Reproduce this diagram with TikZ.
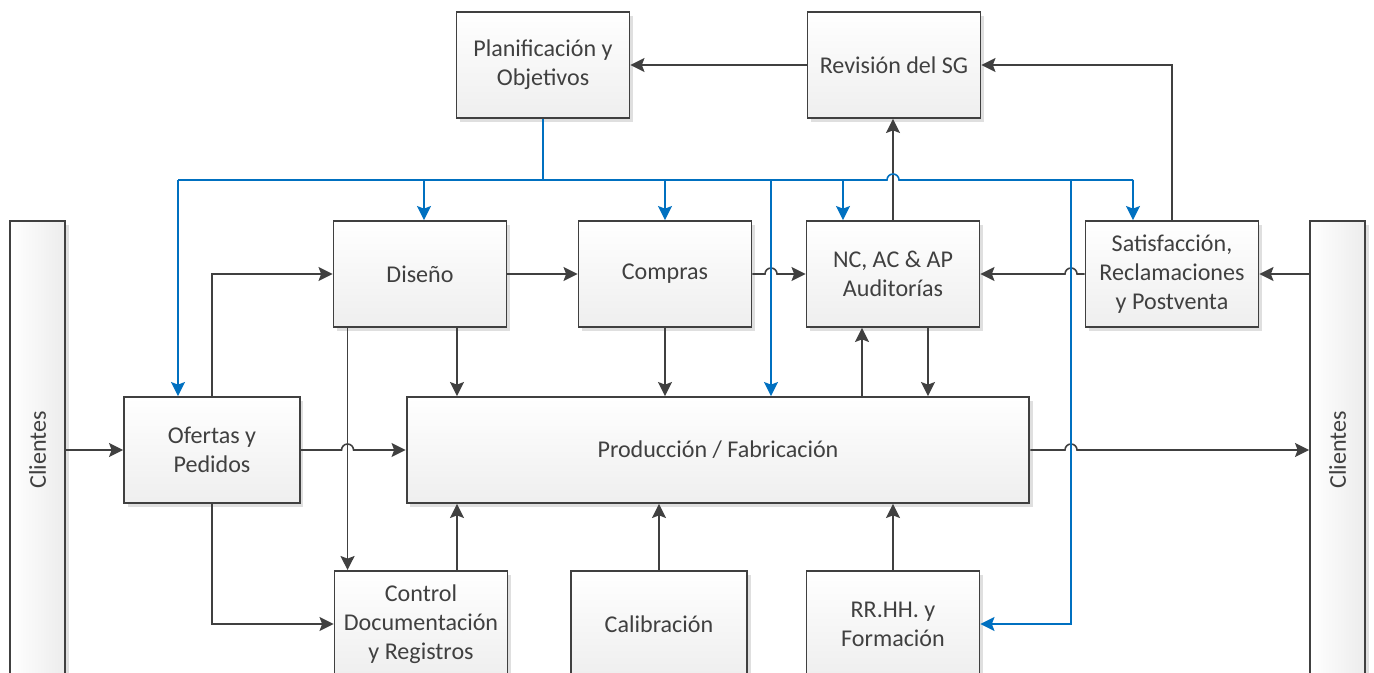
\documentclass[tikz,border=0pt]{standalone}
\usepackage{fontspec}
\setmainfont{Carlito}
\usetikzlibrary{arrows.meta,calc,shadows}

\definecolor{linegray}{RGB}{64,64,64}
\definecolor{planblue}{RGB}{0,112,192}

\begin{document}
\begin{tikzpicture}[x=0.02cm,y=-0.02cm,>={Stealth[length=8pt,width=8pt,inset=1.5pt]},line width=0.9pt,
  font=\fontsize{13.7}{16.5}\selectfont,
  proc/.style={draw=linegray,line width=1.1pt,top color=white,bottom color=gray!13,text=linegray,
    align=center,minimum width=3.46cm,minimum height=2.12cm,inner sep=2pt,
    drop shadow={shadow xshift=2pt,shadow yshift=-2pt,opacity=0.25}},
  client/.style={draw=linegray,line width=1.1pt,left color=white,right color=gray!15,
    minimum width=1.1cm,minimum height=9.16cm,inner sep=0pt,
    drop shadow={shadow xshift=2pt,shadow yshift=-2pt,opacity=0.25}},
  flow/.style={draw=linegray,->},
  plan/.style={draw=planblue,->}]
\def\J{0.12cm}
\clip (0,0) rectangle (1374,673);

% clientes
\node[client] (clL) at (37.5,450) {};
\node[rotate=90,text=linegray] at (clL) {Clientes};
\node[client] (clR) at (1337.5,450) {};
\node[rotate=90,text=linegray] at (clR) {Clientes};

% procesos
\node[proc] (plan) at (543,65) {Planificación y\\Objetivos};
\node[proc] (revision) at (894,65) {Revisión del SG};
\node[proc] (diseno) at (420,274) {Diseño};
\node[proc] (compras) at (665,274) {Compras};
\node[proc] (nc) at (893,274) {NC, AC \& AP\\Auditorías};
\node[proc] (satisf) at (1172,274) {Satisfacción,\\Reclamaciones\\y Postventa};
\node[proc,minimum width=3.52cm] (ofertas) at (212,450) {Ofertas y\\Pedidos};
\node[proc,minimum width=12.46cm] (produccion) at (718,450) {Producción / Fabricación};
\node[proc] (control) at (421,624) {Control\\Documentación\\y Registros};
\node[proc,minimum width=3.52cm] (calib) at (659,624) {Calibración};
\node[proc] (rrhh) at (893,624) {RR.HH. y\\Formación};

% puntos auxiliares
\coordinate (busL) at (178,180);
\coordinate (busR) at (1133,180);
\coordinate (bp) at (771,180);
\coordinate (rv) at (1071,180);
\coordinate (d2c) at ($(diseno.south west)+(15,0)$);
\coordinate (d2p) at ($(diseno.south)+(37,0)$);
\coordinate (c2p) at ($(control.north)+(36,0)$);
\coordinate (p2n) at ($(nc.south)+(-31,0)$);
\coordinate (n2p) at ($(nc.south)+(35,0)$);

% flujos
\draw[flow] (clL.east) -- (ofertas.west);
\draw[flow] (ofertas.north) |- (diseno.west);
\draw[flow] (ofertas.east) -- ($(ofertas.east -| d2c)+(-6,0)$)
  arc[start angle=180,end angle=0,radius=\J] -- (produccion.west);
\draw[flow] (ofertas.south) |- (control.west);
\draw[flow] (d2c) -- (d2c |- control.north);
\draw[flow] (d2p) -- (d2p |- produccion.north);
\draw[flow] (diseno.east) -- (compras.west);
\draw[flow] (compras.south) -- (compras.south |- produccion.north);
\draw[flow] (compras.east) -- ($(compras.east -| bp)+(-6,0)$)
  arc[start angle=180,end angle=0,radius=\J] -- (nc.west);
\draw[flow] (nc.north) -- (nc.north |- revision.south);
\draw[flow] (p2n |- produccion.north) -- (p2n);
\draw[flow] (n2p) -- (n2p |- produccion.north);
\draw[flow] (satisf.west) -- ($(satisf.west -| rv)+(6,0)$)
  arc[start angle=0,end angle=180,radius=\J] -- (nc.east);
\draw[flow] (satisf.north) |- (revision.east);
\draw[flow] (revision.west) -- (plan.east);
\draw[flow] (clR.west |- satisf.east) -- (satisf.east);
\draw[flow] (produccion.east) -- ($(produccion.east -| rv)+(-6,0)$)
  arc[start angle=180,end angle=0,radius=\J] -- (clR.west);
\draw[flow] (c2p) -- (c2p |- produccion.south);
\draw[flow] (calib.north) -- (calib.north |- produccion.south);
\draw[flow] (rrhh.north) -- (rrhh.north |- produccion.south);

% planificacion
\draw[planblue] (plan.south) -- (plan.south |- busL);
\draw[planblue] (busL) -- ($(nc.north |- busL)+(-6,0)$)
  arc[start angle=180,end angle=0,radius=\J] -- (busR);
\draw[plan] (busL) -- (busL |- ofertas.north);
\draw[plan] ($(diseno.north |- busL)+(4,0)$) -- ($(diseno.north)+(4,0)$);
\draw[plan] (compras.north |- busL) -- (compras.north);
\draw[plan] (bp) -- (bp |- produccion.north);
\draw[plan] ($(nc.north |- busL)+(-50,0)$) -- ($(nc.north)+(-50,0)$);
\draw[plan] (busR) -- (busR |- satisf.north);
\draw[plan] (rv) |- (rrhh.east);
\end{tikzpicture}
\end{document}
